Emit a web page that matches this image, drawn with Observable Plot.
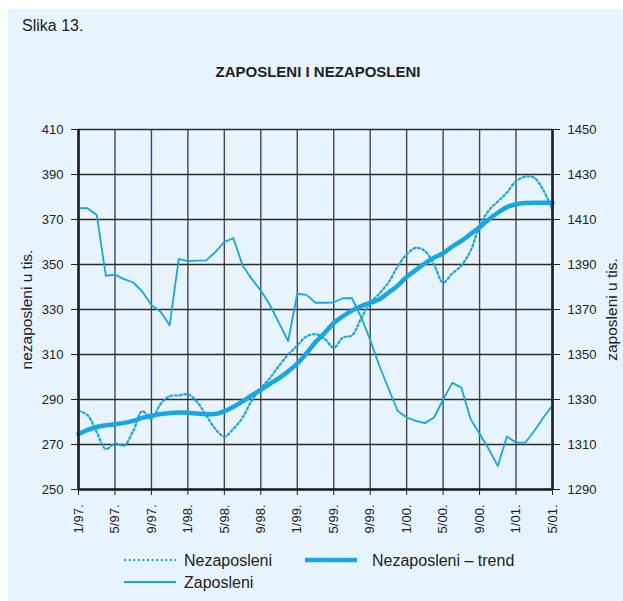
<!DOCTYPE html>
<html><head><meta charset="utf-8">
<script src="https://cdn.jsdelivr.net/npm/d3@7"></script>
<script src="https://cdn.jsdelivr.net/npm/@observablehq/plot@0.6"></script>
<style>
html,body{margin:0;padding:0;background:#fff;width:623px;height:601px;overflow:hidden;}
#panel{position:absolute;left:8px;top:9px;width:615px;height:592px;background:#e7f4fd;}
#chart{position:absolute;left:0;top:0;}
#legend{position:absolute;left:0;top:540px;}
.t{position:absolute;font-family:"Liberation Sans",Arial,sans-serif;color:#222;white-space:nowrap;}
</style></head><body>
<div id="panel"></div>
<div class="t" style="left:22px;top:17px;font-size:16px;">Slika 13.</div>
<div class="t" style="left:0;width:636px;text-align:center;top:63px;font-size:15px;font-weight:bold;">ZAPOSLENI I NEZAPOSLENI</div>
<div id="chart"></div>
<div id="legend"></div>
<script>
// Monthly values, 1/97 ... 5/01 (index 0 = 1/97)
const nezaposleni = [285,283,275.5,268,270.5,269.5,276,284.8,281.4,288,291.5,291.8,292.3,289,283,277,273.5,277,282,289.5,295,299.5,305,310,314,318,319,317,313,317.5,318.5,326,333,337,342,349,354.5,357.4,356,350,342,346,349.5,356,367,374,378,382,387,389,388.5,383,374];
const trend = [274.7,276.5,277.8,278.5,279,279.6,280.5,281.8,282.8,283.5,284,284.2,284.1,283.8,283.5,283.6,284.8,286.8,289.2,291.8,294.3,297,299.5,302.5,306,310.5,315.5,319.5,324,327,329.5,331.5,333,334.5,337.5,340.5,344.5,347.5,350.5,353,355,358,360.5,363.5,366.5,370,373,375.5,376.8,377.3,377.4,377.4,377.4];
const zaposleni = [1415,1415,1412,1385,1385.5,1383.5,1382,1378,1372,1369,1363,1392.5,1391.5,1391.7,1391.8,1395.5,1400,1401.7,1389.6,1383.6,1378.4,1372,1364,1356,1377,1376.5,1373,1373,1373.2,1375,1375,1366.6,1356.5,1345,1335,1325,1322,1320.5,1319.5,1322,1330,1337.4,1335.3,1321.4,1314.8,1308,1300.4,1313.6,1310.8,1310.8,1316,1322,1327.3];
const xTickLabels = ["1/97.","5/97.","9/97.","1/98.","5/98.","9/98.","1/99.","5/99.","9/99.","1/00.","5/00.","9/00.","1/01.","5/01."];
const leftTicks = [250,270,290,310,330,350,370,390,410];
const rightTicks = [1290,1310,1330,1350,1370,1390,1410,1430,1450];
const rightOffset = rightTicks[0] - leftTicks[0];

const xTicks = xTickLabels.map((_, i) => i * 4);
const rows = nezaposleni.map((v, i) => ({m: i, n: v, t: trend[i], z: zaposleni[i]}));
const blue = "#16a6e3";
const dark = "#2a2a2a";

const chart = Plot.plot({
  width: 623, height: 540,
  marginTop: 129, marginLeft: 78, marginRight: 71, marginBottom: 51,
  style: {background: "transparent", fontFamily: "'Liberation Sans', Arial, sans-serif", fontSize: "13px", color: "#222"},
  x: {domain: [0, 52]},
  y: {domain: [250, 410]},
  marks: [
    Plot.gridY(leftTicks, {stroke: dark, strokeOpacity: 1, strokeWidth: 1.3}),
    Plot.gridX(xTicks, {stroke: dark, strokeOpacity: 0.85, strokeWidth: 1.4}),
    Plot.line(rows, {x: "m", y: d => d.z - rightOffset, stroke: blue, strokeWidth: 1.8}),
    Plot.line(rows, {x: "m", y: "n", stroke: blue, strokeWidth: 2.2, strokeDasharray: "2,2.6", curve: "catmull-rom"}),
    Plot.line(rows, {x: "m", y: "t", stroke: blue, strokeWidth: 4.5, curve: "monotone-x"}),
    Plot.ruleX([0, 52], {stroke: "#1e1e1e", strokeWidth: 2.6}),
    Plot.ruleY([250], {stroke: "#1e1e1e", strokeWidth: 2.6}),
    Plot.axisY({anchor: "left", ticks: leftTicks, tickSize: 7, tickPadding: 8, label: null}),
    Plot.axisY({anchor: "right", ticks: leftTicks, tickFormat: (d, i) => String(rightTicks[i]), tickSize: 7, tickPadding: 8, label: null}),
    Plot.axisX({ticks: xTicks, tickFormat: (d, i) => xTickLabels[i], tickRotate: -90, tickSize: 6, tickPadding: 9, label: null}),
    Plot.text(["nezaposleni u tis."], {frameAnchor: "left", textAnchor: "middle", dx: -51, rotate: -90, fontSize: 15.5, fill: "#222"}),
    Plot.text(["zaposleni u tis."], {frameAnchor: "right", textAnchor: "middle", dx: 60, rotate: -90, fontSize: 15.5, fill: "#222"})
  ]
});
document.getElementById("chart").append(chart);

// Legend
const legendItems = [
  {label: "Nezaposleni", x: 124, y: 20, dash: "2,2.6", w: 2.2},
  {label: "Nezaposleni – trend", x: 305, y: 20, dash: null, w: 4.5},
  {label: "Zaposleni", x: 124, y: 42, dash: null, w: 1.8}
];
const ns = "http://www.w3.org/2000/svg";
const lg = document.createElementNS(ns, "svg");
lg.setAttribute("width", 623); lg.setAttribute("height", 61);
lg.setAttribute("font-family", "'Liberation Sans', Arial, sans-serif");
for (const it of legendItems) {
  const ln = document.createElementNS(ns, "line");
  ln.setAttribute("x1", it.x); ln.setAttribute("x2", it.x + 52);
  ln.setAttribute("y1", it.y); ln.setAttribute("y2", it.y);
  ln.setAttribute("stroke", blue); ln.setAttribute("stroke-width", it.w);
  if (it.dash) ln.setAttribute("stroke-dasharray", it.dash);
  lg.append(ln);
  const tx = document.createElementNS(ns, "text");
  tx.setAttribute("x", it.x + (it.w > 4 ? 67 : 60)); tx.setAttribute("y", it.y + 5.5);
  tx.setAttribute("font-size", 16); tx.setAttribute("fill", "#222");
  tx.textContent = it.label;
  lg.append(tx);
}
document.getElementById("legend").append(lg);
</script>
</body></html>
